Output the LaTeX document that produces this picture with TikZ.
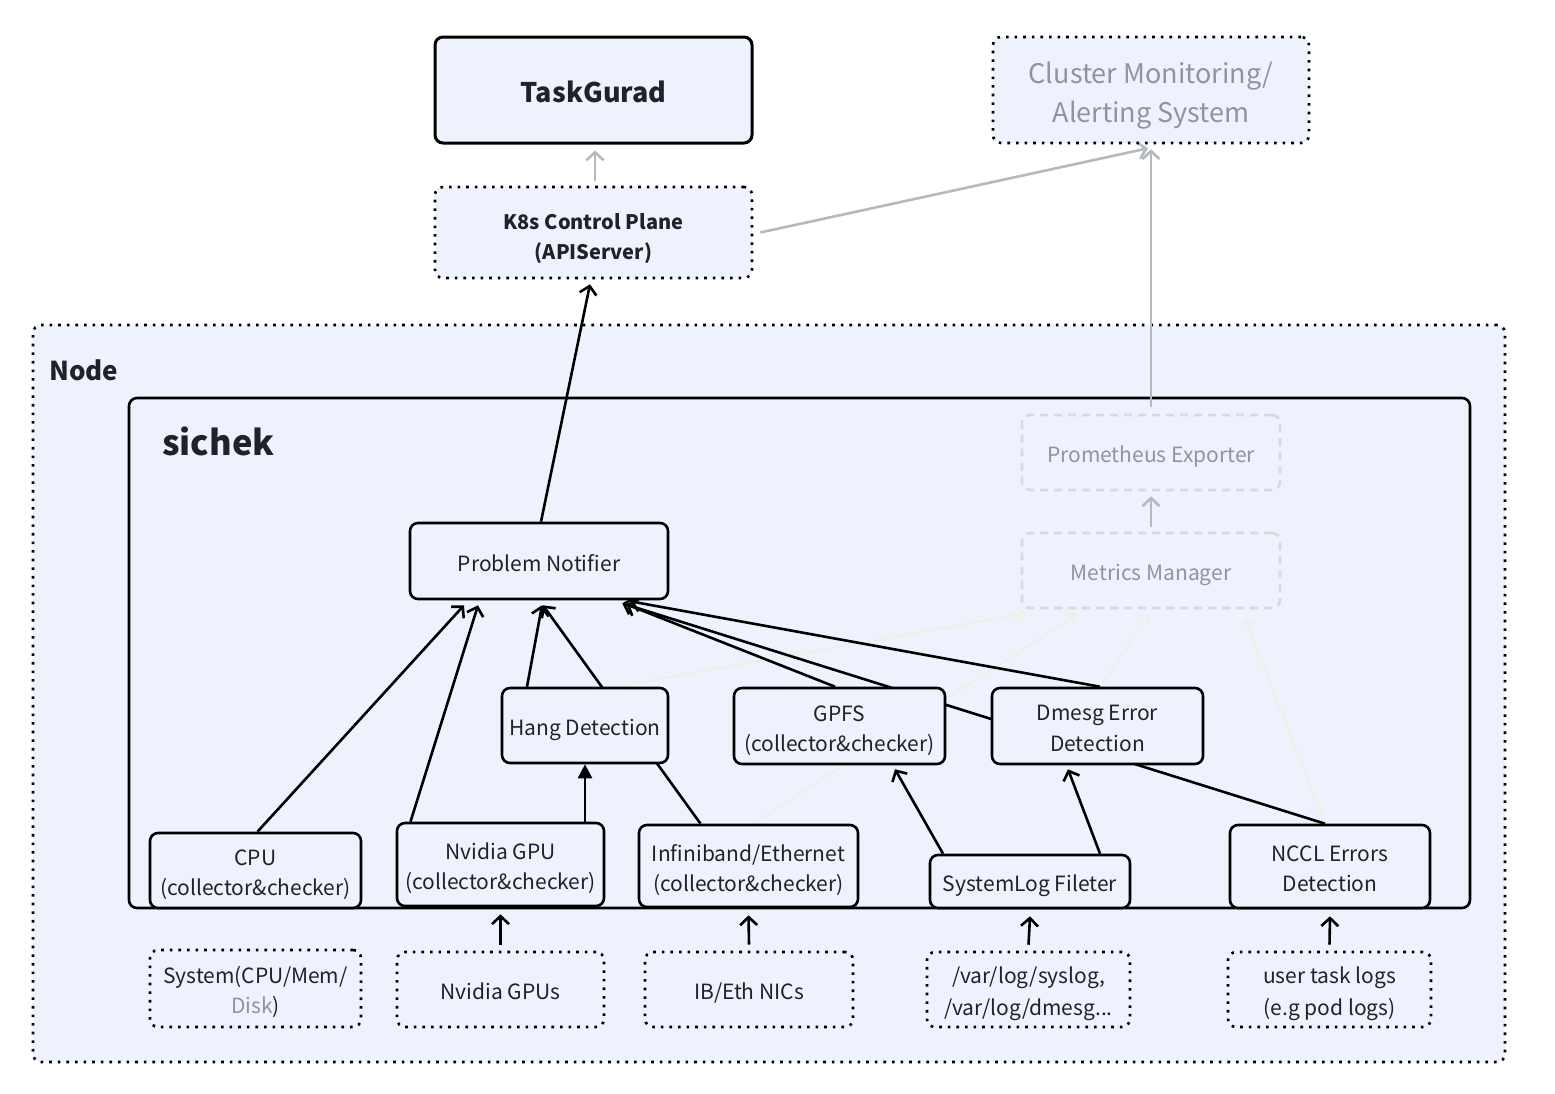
\documentclass[tikz,border=0pt]{standalone}
\usepackage{fontspec}
\setmainfont{Noto Sans CJK SC}
\usetikzlibrary{arrows.meta,calc}
\definecolor{bgblue}{HTML}{EEF2FC}
\definecolor{txt}{HTML}{1F2329}
\definecolor{gtxt}{HTML}{8F959E}
\definecolor{garrow}{HTML}{B5B9C1}
\definecolor{gdash}{HTML}{D6D9DF}
\definecolor{faint}{HTML}{F1EFE4}
\newcommand\tS{\rule[-5pt]{0pt}{30pt}}
\newcommand\tK{\rule{0pt}{28pt}}
\newcommand\tE{\rule[-5pt]{0pt}{5pt}}
\newcommand\tC{\rule[-5pt]{0pt}{37pt}}
\pgfdeclarelayer{bg}\pgfdeclarelayer{edges}
\pgfsetlayers{bg,edges,main}
\begin{document}
\begin{tikzpicture}[x=1pt,y=-1pt,
  hd/.style 2 args={execute at begin node={\rule[-#1]{0pt}{#2}},
                    execute at end node={\rule[-#1]{0pt}{#2}}},
  box/.style={draw=black, line width=2.6pt, rounded corners=8pt, fill=bgblue, align=center,
    text=txt, font=\fontsize{21}{30}\selectfont, inner sep=0pt, hd={5pt}{30pt}},
  dotbox/.style={box, dash pattern=on 2.6pt off 6pt},
  ghostbox/.style={box, draw=gdash, text=gtxt, dash pattern=on 8pt off 6pt},
  arr/.style={draw=black, line width=2.6pt, -{Straight Barb[length=8pt,width=17pt]}},
  garr/.style={arr, draw=garrow},
  farr/.style={draw=faint, line width=1.8pt, -{Straight Barb[length=7pt,width=15pt]}},
  filarr/.style={draw=black, line width=2.6pt, -{Triangle[length=14pt,width=14pt]}},
]
\begin{pgfonlayer}{bg}
\fill[white] (0,0) rectangle (1555,1093);
\node[draw=black, line width=2.6pt, dash pattern=on 2.6pt off 6pt, rounded corners=8pt, fill=bgblue,
  minimum width=1472pt, minimum height=737pt, inner sep=0pt] (nodebox) at (769,693.5) {};
\node[draw=black, line width=2.6pt, rounded corners=8pt, fill=bgblue,
  minimum width=1341pt, minimum height=510pt, inner sep=0pt] (sichek) at (799.5,653) {};
\end{pgfonlayer}
\useasboundingbox (0,0) rectangle (1555,1093);

\node[anchor=base west, text=txt, font=\bfseries\fontsize{26}{30}\selectfont, inner sep=0pt] (nodelbl) at (49,380) {Node};
\node[anchor=base west, text=txt, font=\bfseries\fontsize{34.5}{40}\selectfont, inner sep=0pt] (sicheklbl) at (162,455) {sichek};

% top
\node[box, line width=3pt, minimum width=317pt, minimum height=106pt, hd={5pt}{34pt},
  font=\bfseries\fontsize{27}{36}\selectfont] (tg) at (593.5,90) {TaskGurad};
\node[dotbox, minimum width=317pt, minimum height=91pt, hd={5pt}{31pt},
  font=\bfseries\fontsize{20}{30}\selectfont] (k8s) at (593.5,232.5) {\tK K8s Control Plane\\(APIServer)\tE};
\node[dotbox, text=gtxt, minimum width=316pt, minimum height=106pt, hd={5pt}{35pt},
  font=\fontsize{27}{39}\selectfont] (cms) at (1151,90) {\tC Cluster Monitoring/\\Alerting System\tC};

% sichek internals
\node[ghostbox, minimum width=258pt, minimum height=75pt] (prom) at (1151,452.5) {Prometheus Exporter};
\node[ghostbox, minimum width=258pt, minimum height=75pt] (metrics) at (1151,570.5) {Metrics Manager};
\node[box, minimum width=258pt, minimum height=76pt] (pn) at (539,561) {Problem Notifier};
\node[box, minimum width=166pt, minimum height=75pt] (hang) at (585,725.5) {Hang Detection};
\node[box, minimum width=211pt, minimum height=76pt] (gpfs) at (839.5,726) {\tS GPFS\\(collector\&checker)\tS};
\node[box, minimum width=211pt, minimum height=76pt] (dmesg) at (1097.5,726) {\tS Dmesg Error\\Detection\tS};
\node[box, minimum width=211pt, minimum height=75pt] (cpu) at (255.5,870.5) {\tS CPU\\(collector\&checker)\tS};
\node[box, minimum width=207pt, minimum height=83pt] (gpu) at (500.5,864.5) {\tS Nvidia GPU\\(collector\&checker)\tS};
\node[box, minimum width=219pt, minimum height=82pt] (ib) at (748.5,866) {\tS Infiniband/Ethernet\\(collector\&checker)\tS};
\node[box, minimum width=200pt, minimum height=53pt] (syslog) at (1030,881.5) {SystemLog Fileter};
\node[box, minimum width=200pt, minimum height=83pt] (nccl) at (1330,866.5) {\tS NCCL Errors\\Detection\tS};

% sources
\node[dotbox, minimum width=211pt, minimum height=77pt] (sys) at (255.5,988.5) {\tS System(CPU/Mem/\\{\color{gtxt}Disk})\tS};
\node[dotbox, minimum width=207pt, minimum height=75pt] (gpus) at (500.5,989.5) {Nvidia GPUs};
\node[dotbox, minimum width=208pt, minimum height=75pt] (nics) at (749,989.5) {IB/Eth NICs};
\node[dotbox, minimum width=203pt, minimum height=75pt] (varlog) at (1028.5,989.5) {\tS /var/log/syslog,\\/var/log/dmesg...\tS};
\node[dotbox, minimum width=203pt, minimum height=75pt] (user) at (1329.5,989.5) {\tS user task logs\\(e.g pod logs)\tS};

\begin{pgfonlayer}{edges}
% faint connectors to metrics manager
\draw[farr] ($(hang.north)+(30,0)$) -- ($(metrics.south west)+(5,4)$);
\draw[farr] ($(ib.north)+(5,0)$) -- ($(metrics.south)+(-74,5)$);
\draw[farr] ($(dmesg.north)+(3,0)$) -- ($(metrics.south)+(-3,5)$);
\draw[farr] ($(nccl.north)+(-5,0)$) -- ($(metrics.south)+(94,9)$);
% into problem notifier
\draw[arr] ($(cpu.north)+(2,0)$) -- ($(pn.south)+(-75,5)$);
\draw[arr] ($(gpu.north)+(-90,0)$) -- ($(pn.south)+(-61,5)$);
\draw[arr] ($(hang.north)+(-58,0)$) -- ($(pn.south)+(3,5)$);
\draw[arr] ($(ib.north)+(-48,0)$) -- ($(pn.south)+(4,5)$);
\draw[arr] ($(gpfs.north)+(-4.5,0)$) -- ($(pn.south east)+(-43,4)$);
\draw[arr] ($(nccl.north)+(-5,0)$) -- ($(pn.south east)+(-47,3)$);
\draw[arr] ($(dmesg.north)+(2.5,0)$) -- ($(pn.south east)+(-39,1)$);
\draw[filarr] ($(gpu.north)+(84.5,0)$) -- (hang.south);
\draw[arr] ($(syslog.north)+(-87,0)$) -- ($(gpfs.south)+(55.5,4)$);
\draw[arr] ($(syslog.north)+(70,0)$) -- ($(dmesg.south)+(-29.5,4)$);
\draw[arr] ($(pn.north)+(2,0)$) -- ($(k8s.south)+(-3.5,5)$);
% gray
\draw[garr] ($(k8s.north)+(1.5,-5)$) -- ($(tg.south)+(1.5,6)$);
\draw[garr] ($(k8s.east)+(7,0)$) -- ($(cms.south)+(-3,4)$);
\draw[garr] ($(prom.north)+(0,-7)$) -- ($(cms.south)+(0,5)$);
\draw[garr] ($(metrics.north)+(0,-5)$) -- ($(prom.south)+(0,5)$);
% bottom sources
\draw[arr] ($(gpus.north)+(0,-6)$) -- ($(gpu.south)+(0,7)$);
\draw[arr] ($(nics.north)+(0,-6)$) -- ($(ib.south)+(0,7)$);
\draw[arr] ($(varlog.north)+(0,-6)$) -- ($(syslog.south)+(0,7)$);
\draw[arr] ($(user.north)+(0,-6)$) -- ($(nccl.south)+(0,7)$);
\end{pgfonlayer}
\end{tikzpicture}
\end{document}
